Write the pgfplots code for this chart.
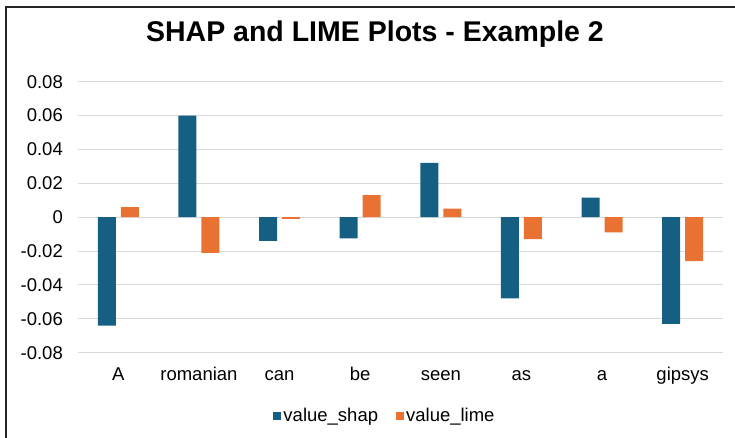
\documentclass[border=0pt]{standalone}
\usepackage{pgfplots}
\pgfplotsset{compat=1.18}
\usepackage{fontspec}
\setmainfont{Liberation Sans}
\definecolor{shapblue}{HTML}{156082}
\definecolor{limeorange}{HTML}{E97132}
\definecolor{gridgray}{HTML}{D9D9D9}
\begin{document}
\begin{tikzpicture}
\path[use as bounding box] (0pt,0pt) rectangle (735pt,438pt);
\draw[line width=1.4pt, black!85] (6pt,-20pt) -- (6pt,431pt) -- (760pt,431pt);
\node[anchor=base, font=\fontsize{28.5}{34}\selectfont\bfseries] at (375pt,396.3pt) {SHAP and LIME Plots - Example 2};
\begin{axis}[
    at={(78pt,85.3pt)},
    anchor=south west,
    scale only axis,
    width=645pt,
    height=271pt,
    ybar=5pt,
    bar width=18pt,
    xmin=-0.5, xmax=7.5,
    ymin=-0.08, ymax=0.08,
    scaled y ticks=false,
    xtick={0,1,2,3,4,5,6,7},
    xticklabels={A,romanian,can,be,seen,as,a,gipsys},
    ytick={-0.08,-0.06,-0.04,-0.02,0,0.02,0.04,0.06,0.08},
    yticklabels={-0.08,-0.06,-0.04,-0.02,0,0.02,0.04,0.06,0.08},
    ymajorgrids,
    grid style={draw=gridgray, line width=1pt},
    axis line style={draw=none},
    major tick length=0pt,
    tick label style={font=\fontsize{18.5}{22}\selectfont},
    yticklabel style={anchor=east, inner sep=0pt, xshift=-15pt},
    xticklabel style={anchor=base, inner sep=0pt, yshift=-28pt},
    legend style={
        at={(0.476,-0.2336)}, anchor=center,
        draw=none, fill=none,
        font=\fontsize{18.5}{22}\selectfont,
        legend columns=2,
        /tikz/every even column/.append style={column sep=16pt},
    },
    legend image code/.code={\fill[#1] (0pt,-4pt) rectangle (8pt,4pt);},
]
\addplot[fill=shapblue, draw=none] coordinates {
    (0,-0.064) (1,0.060) (2,-0.014) (3,-0.0125)
    (4,0.032) (5,-0.048) (6,0.0115) (7,-0.063)
};
\addplot[fill=limeorange, draw=none] coordinates {
    (0,0.006) (1,-0.021) (2,-0.001) (3,0.013)
    (4,0.005) (5,-0.013) (6,-0.009) (7,-0.026)
};
\legend{value\_shap, value\_lime}
\end{axis}
\end{tikzpicture}
\end{document}
